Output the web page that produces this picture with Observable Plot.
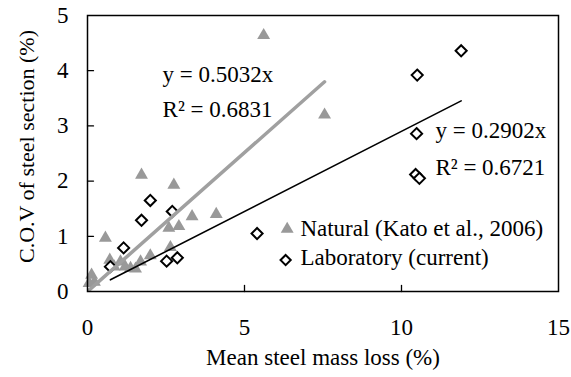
<!DOCTYPE html>
<html>
<head>
<meta charset="utf-8">
<script src="https://cdn.jsdelivr.net/npm/d3@7"></script>
<script src="https://cdn.jsdelivr.net/npm/@observablehq/plot@0.6"></script>
<style>
  html, body { margin: 0; padding: 0; background: #fff; }
</style>
</head>
<body>
<div id="chart"></div>
<script>
// Natural corrosion (Kato et al., 2006): mean mass loss (%) vs C.O.V (%)
const naturalX = [0.05, 0.13, 0.22, 0.57, 0.71, 0.85, 1.05, 1.20, 1.37, 1.53, 1.69, 1.72, 2.00, 2.64, 2.59, 2.91, 2.75, 3.33, 4.10, 5.61, 7.55];
const naturalY = [0.15, 0.30, 0.17, 0.97, 0.57, 0.45, 0.54, 0.45, 0.42, 0.41, 0.54, 2.11, 0.65, 0.80, 1.15, 1.18, 1.93, 1.36, 1.40, 4.64, 3.20];

// Laboratory specimens (current study)
const labX = [0.73, 1.15, 1.72, 2.00, 2.70, 2.52, 2.86, 5.40, 10.48, 10.45, 10.57, 10.50, 11.90];
const labY = [0.45, 0.79, 1.29, 1.65, 1.45, 0.55, 0.61, 1.05, 2.86, 2.12, 2.05, 3.92, 4.36];

// Linear fits through the origin
const seriesNames = ["Natural (Kato et al., 2006)", "Laboratory (current)"];
const slopes = [0.5032, 0.2902];
const rSquared = [0.6831, 0.6721];

// Axis ticks
const xTicks = [0, 5, 10, 15];
const yTicks = [0, 1, 2, 3, 4, 5];

// Where the fit equations and legend entries sit (data units)
const eqX = [2.39, 11.08];
const eqY = [3.79, 2.78];
const eqR2Y = [3.16, 2.11];
const legendMarkX = [6.36, 6.31];
const legendMarkY = [1.13, 0.57];
const legendTextX = [6.78, 6.78];
const legendTextY = [1.00, 0.48];

const natural = naturalX.map((x, i) => ({x, y: naturalY[i]}));
const lab = labX.map((x, i) => ({x, y: labY[i]}));

function fitLine(xs, slope) {
  const [x0, x1] = d3.extent(xs);
  return [{x: x0, y: slope * x0}, {x: x1, y: slope * x1}];
}

const equations = slopes.flatMap((s, i) => [
  {x: eqX[i], y: eqY[i], text: `y = ${s.toFixed(4)}x`},
  {x: eqX[i], y: eqR2Y[i], text: `R\u00B2 = ${rSquared[i].toFixed(4)}`}
]);
const legend = seriesNames.map((name, i) => ({
  mx: legendMarkX[i], my: legendMarkY[i], tx: legendTextX[i], ty: legendTextY[i], name
}));

const FONT = "'Liberation Serif', 'Times New Roman', serif";
const FS = 23;
const GREY = "#999999";

// plain straight tick stub (no arrowhead)
const stub = {draw(context, l) { context.moveTo(0, 0); context.lineTo(0, -l); }};

const chart = Plot.plot({
  width: 571,
  height: 377,
  marginLeft: 87,
  marginRight: 13,
  marginTop: 15,
  marginBottom: 86,
  style: {fontFamily: FONT, fontSize: FS + "px", background: "#fff", color: "#000"},
  x: {domain: [0, 15]},
  y: {domain: [0, 5]},
  marks: [
    // tick labels
    Plot.axisX({ticks: xTicks, tickFormat: "d", tickSize: 0, tickPadding: 27, fontSize: FS, label: null}),
    Plot.axisY({ticks: yTicks, tickFormat: "d", tickSize: 0, tickPadding: 19, fontSize: FS, label: null}),
    // inward tick marks
    Plot.vector(xTicks.slice(1, -1), {x: d => d, y: 0, length: 6, rotate: 0, anchor: "start", shape: stub, stroke: "#000", strokeWidth: 1.3}),
    Plot.vector(yTicks.slice(1, -1), {x: 0, y: d => d, length: 6, rotate: 90, anchor: "start", shape: stub, stroke: "#000", strokeWidth: 1.3}),
    // axis titles
    Plot.text(["Mean steel mass loss (%)"], {frameAnchor: "bottom", text: d => d, dy: 73.5, lineAnchor: "bottom", textAnchor: "middle", fontSize: FS}),
    Plot.text(["C.O.V of steel section (%)"], {frameAnchor: "left", text: d => d, dx: -54, dy: -7, rotate: -90, lineAnchor: "bottom", textAnchor: "middle", fontSize: 22}),
    // data
    Plot.dot(natural, {x: "x", y: "y", symbol: "triangle", r: 4.8, fill: GREY}),
    Plot.dot(lab, {x: "x", y: "y", symbol: "diamond2", r: 5, fill: "#fff", stroke: "#000", strokeWidth: 2}),
    // fitted lines
    Plot.line(fitLine(naturalX, slopes[0]), {x: "x", y: "y", stroke: "#a0a0a0", strokeWidth: 3.5}),
    Plot.line(fitLine(labX, slopes[1]), {x: "x", y: "y", stroke: "#000", strokeWidth: 1.6}),
    // equations
    Plot.text(equations, {x: "x", y: "y", text: "text", textAnchor: "start", lineAnchor: "bottom", fontSize: FS}),
    // legend
    Plot.dot(legend.slice(0, 1), {x: "mx", y: "my", symbol: "triangle", r: 4.8, fill: GREY}),
    Plot.dot(legend.slice(1), {x: "mx", y: "my", symbol: "diamond2", r: 4.6, fill: "#fff", stroke: "#000", strokeWidth: 2}),
    Plot.text(legend, {x: "tx", y: "ty", text: "name", textAnchor: "start", lineAnchor: "bottom", fontSize: FS}),
    Plot.frame({stroke: "#000", strokeWidth: 1.5})
  ]
});

document.getElementById("chart").appendChild(chart);
</script>
</body>
</html>
